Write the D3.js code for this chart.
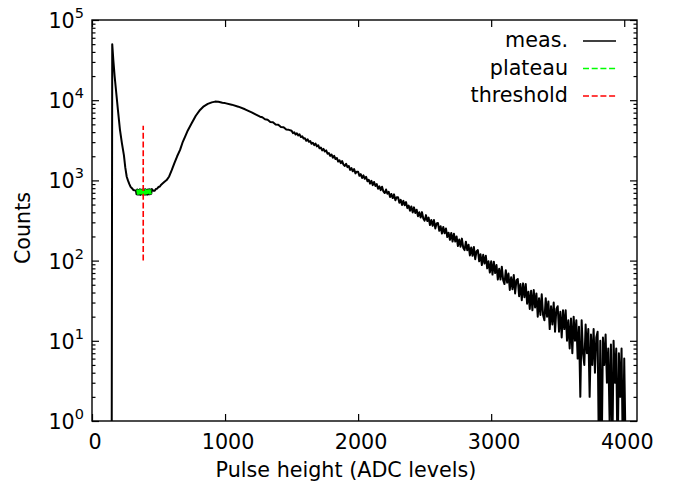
<!DOCTYPE html>
<html>
<head>
<meta charset="utf-8">
<script src="https://cdn.jsdelivr.net/npm/d3@7"></script>
<style>
    body { margin: 0; background: #fff; }
    #spectrum svg { font-family: "DejaVu Sans", sans-serif; }
</style>
</head>
<body>
<div id="spectrum"></div>
<script>
// pulse height histogram
const headAdc = [148, 152, 160, 170, 180, 195, 210, 225, 240, 250, 261, 270, 280, 290, 300, 310, 320];
const headCounts = [0, 50000, 32000, 20000, 13500, 7500, 4300, 2900, 2050, 1450, 1110, 1000, 905, 830, 800, 760, 752];

// valley around the plateau, finer bins
const valleyAdc = [330, 335, 340, 345, 350, 355, 360, 365, 370, 375, 380, 385, 390, 395, 400, 405, 410, 415, 420, 425, 430, 435, 440, 445, 450];
const valleyCounts = [745, 672, 770, 665, 760, 668, 775, 660, 765, 670, 772, 662, 768, 665, 778, 668, 762, 664, 770, 670, 775, 672, 768, 680, 780];

// rise to the main peak and the start of the fall
const riseAdc = [460, 470, 480, 490, 500, 510, 520, 530, 545, 561, 580, 600, 620, 640, 662, 680, 699, 720, 750, 780, 812, 840, 870, 900, 925, 950, 980, 1000, 1050, 1100, 1150, 1200, 1263,
    1280, 1300, 1320, 1340, 1360, 1380, 1400, 1420, 1440, 1460, 1480];
const riseCounts = [745, 742, 780, 790, 828, 840, 885, 915, 960, 1010, 1120, 1350, 1650, 2000, 2400, 2950, 3500, 4200, 5200, 6400, 7560, 8400, 9000, 9400, 9600, 9550, 9300, 9200, 8800, 8300, 7700, 7050, 6230,
    6120, 5780, 5700, 5360, 5300, 4980, 4930, 4630, 4590, 4300, 4270];

// noisy tail, one value every 10 ADC levels from 1500 on
const tailStart = 1500;
const tailStep = 10;
const tailCounts = [
    4163, 3889, 3972, 3729, 3861, 3647, 3745, 3478, 3542, 3323,
    3362, 3121, 3251, 3028, 3098, 2858, 2943, 2757, 2879, 2658,
    2743, 2512, 2572, 2370, 2470, 2294, 2365, 2150, 2194, 2021,
    2107, 1917, 2023, 1849, 1904, 1718, 1785, 1644, 1741, 1573,
    1516, 1608, 1465, 1513, 1352, 1422, 1300, 1385, 1222, 1286,
    1283, 1140, 1196, 1072, 1155, 1047, 1108, 974, 1018, 912,
    989, 873, 956, 851, 900, 785, 843, 757, 834, 729,
    696, 770, 681, 722, 620, 678, 602, 669, 565, 617,
    618, 527, 572, 494, 556, 489, 537, 451, 486, 419,
    474, 399, 461, 393, 431, 357, 400, 345, 402, 335,
    315, 369, 311, 344, 277, 320, 271, 320, 252, 290,
    294, 235, 268, 217, 262, 219, 252, 197, 223, 181,
    221, 173, 216, 173, 200, 152, 183, 149, 188, 145,
    135, 172, 135, 158, 116, 146, 115, 148, 104, 131,
    135, 98, 120, 88, 118, 92, 115, 80, 98, 71,
    98, 67, 97, 70, 88, 58, 79, 58, 84, 57,
    51, 76, 53, 69, 43, 62, 44, 66, 39, 57,
    59, 36, 51, 32, 52, 35, 51, 29, 41, 25,
    42, 24, 43, 26, 39, 20, 34, 21, 38, 21,
    18, 34, 20, 31, 14, 27, 16, 30, 13, 25,
    27, 13, 23, 11, 24, 14, 24, 10, 18, 8,
    19, 7, 20, 10, 18, 6, 15, 2, 18, 7,
    5, 16, 7, 14, 2, 12, 5, 14, 4, 11,
    13, 0, 10, 0, 11, 5, 12, 3, 8, 1,
    9, 0, 10, 3, 8, 0, 7, 2, 8, 0,
    6
];
const endAdc = [4012, 4096];
const endCounts = [0, 0];

const plateauRange = [336, 448];
const thresholdAdc = 385;
const thresholdCounts = [100, 4800];

const xTicks = [0, 1000, 2000, 3000, 4000];
const yExponents = [0, 1, 2, 3, 4, 5];
const legendItems = [
    {label: "meas.", color: "#000000", dash: null},
    {label: "plateau", color: "#00ff00", dash: "6,2.7"},
    {label: "threshold", color: "#ff0000", dash: "6,2.7"}
];

document.addEventListener("DOMContentLoaded", function() {
    const width = 678, height = 484;
    const plot = {left: 92, right: 637, top: 20, bottom: 421};
    const fontSize = "20.7px";

    const svg = d3.select("#spectrum").append("svg")
        .attr("width", width)
        .attr("height", height);

    // assemble measured points
    const meas = [];
    headAdc.forEach((a, i) => meas.push({adc: a, count: headCounts[i]}));
    valleyAdc.forEach((a, i) => meas.push({adc: a, count: valleyCounts[i]}));
    riseAdc.forEach((a, i) => meas.push({adc: a, count: riseCounts[i]}));
    tailCounts.forEach((c, i) => meas.push({adc: tailStart + i * tailStep, count: c}));
    endAdc.forEach((a, i) => meas.push({adc: a, count: endCounts[i]}));
    const plateau = meas.filter(d => d.adc >= plateauRange[0] && d.adc <= plateauRange[1]);

    const x = d3.scaleLinear().domain([0, 4096]).range([plot.left, plot.right]);
    const y = d3.scaleLog().domain([1, 1e5]).range([plot.bottom, plot.top]);

    svg.append("clipPath").attr("id", "plotclip")
        .append("rect")
        .attr("x", plot.left).attr("y", plot.top)
        .attr("width", plot.right - plot.left)
        .attr("height", plot.bottom - plot.top);

    // zero counts fall below the log axis and get clipped
    const line = d3.line()
        .x(d => x(d.adc))
        .y(d => y(Math.max(d.count, 0.3)));

    const data = svg.append("g").attr("clip-path", "url(#plotclip)");

    data.append("path")
        .datum(meas)
        .attr("fill", "none")
        .attr("stroke", "#000")
        .attr("stroke-width", 2)
        .attr("stroke-linejoin", "round")
        .attr("d", line);

    data.append("path")
        .datum(plateau)
        .attr("fill", "none")
        .attr("stroke", "#00ff00")
        .attr("stroke-width", 2)
        .attr("stroke-dasharray", "6,2.7")
        .attr("d", line);

    data.append("line")
        .attr("x1", x(thresholdAdc)).attr("x2", x(thresholdAdc))
        .attr("y1", y(thresholdCounts[0])).attr("y2", y(thresholdCounts[1]))
        .attr("stroke", "#ff0000")
        .attr("stroke-width", 1.6)
        .attr("stroke-dasharray", "6,2.7");

    // axes, ticks pointing inwards on all four sides
    const majors = yExponents.map(e => Math.pow(10, e));
    const minors = [];
    yExponents.slice(0, -1).forEach(e => {
        for (let m = 2; m <= 9; m++) minors.push(m * Math.pow(10, e));
    });

    function styleAxis(g) {
        g.select(".domain").remove();
        g.selectAll(".tick line").attr("stroke", "#000").attr("stroke-width", 1.2);
        g.selectAll("text").attr("fill", "#000").style("font-size", fontSize);
    }

    svg.append("g")
        .attr("transform", `translate(0,${plot.bottom})`)
        .call(d3.axisBottom(x).tickValues(xTicks).tickFormat(d3.format("d"))
            .tickSizeInner(-7).tickSizeOuter(0).tickPadding(13))
        .call(styleAxis)
        .attr("font-family", null)
        .selectAll("text").attr("dx", 2.5);

    svg.append("g")
        .attr("transform", `translate(0,${plot.top})`)
        .call(d3.axisTop(x).tickValues(xTicks).tickSizeInner(-7).tickSizeOuter(0).tickFormat(""))
        .call(styleAxis);

    [[d3.axisLeft, plot.left], [d3.axisRight, plot.right]].forEach(([axisFn, pos]) => {
        svg.append("g")
            .attr("transform", `translate(${pos},0)`)
            .call(axisFn(y).tickValues(majors).tickSizeInner(-7).tickSizeOuter(0).tickFormat(""))
            .call(styleAxis);
        svg.append("g")
            .attr("transform", `translate(${pos},0)`)
            .call(axisFn(y).tickValues(minors).tickSizeInner(-3.5).tickSizeOuter(0).tickFormat(""))
            .call(styleAxis);
    });

    // y tick labels as 10 with a superscript exponent
    yExponents.forEach(e => {
        const t = svg.append("text")
            .attr("x", plot.left - 8)
            .attr("y", y(Math.pow(10, e)) + 8)
            .attr("text-anchor", "end")
            .style("font-size", fontSize);
        t.append("tspan").text("10");
        t.append("tspan").attr("dy", -10).style("font-size", "14.5px").text(e);
    });

    // frame
    svg.append("rect")
        .attr("x", plot.left).attr("y", plot.top)
        .attr("width", plot.right - plot.left)
        .attr("height", plot.bottom - plot.top)
        .attr("fill", "none")
        .attr("stroke", "#000")
        .attr("stroke-width", 1.4);

    svg.append("text")
        .attr("x", 346)
        .attr("y", 477)
        .attr("text-anchor", "middle")
        .style("font-size", fontSize)
        .text("Pulse height (ADC levels)");

    svg.append("text")
        .attr("transform", "translate(30,228) rotate(-90)")
        .attr("text-anchor", "middle")
        .style("font-size", fontSize)
        .text("Counts");

    // legend, labels to the left of the handles
    const legend = svg.append("g");
    legendItems.forEach((item, i) => {
        const base = 47 + i * 27.5;
        legend.append("text")
            .attr("x", 568)
            .attr("y", base)
            .attr("text-anchor", "end")
            .style("font-size", fontSize)
            .text(item.label);
        legend.append("line")
            .attr("x1", 583).attr("x2", 616)
            .attr("y1", base - 6).attr("y2", base - 6)
            .attr("stroke", item.color)
            .attr("stroke-width", 1.6)
            .attr("stroke-dasharray", item.dash);
    });
});
</script>
</body>
</html>
